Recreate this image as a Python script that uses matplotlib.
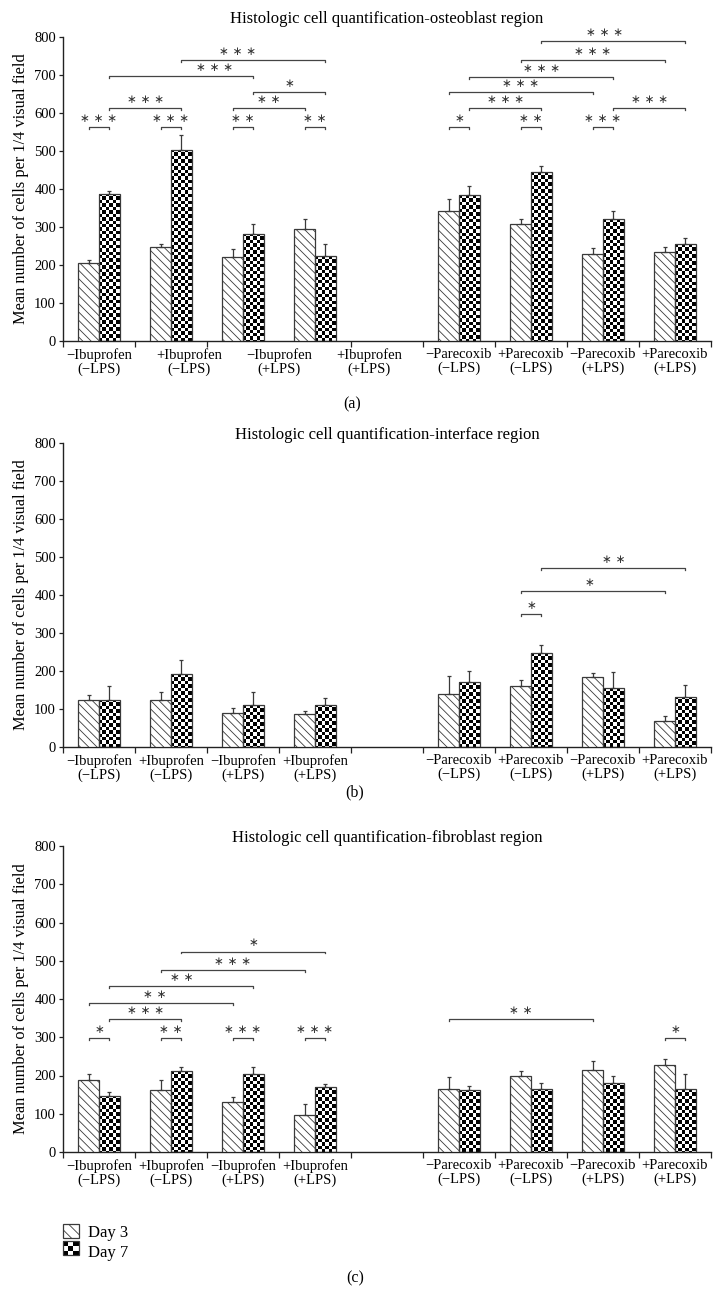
import numpy as np
import matplotlib.pyplot as plt
from matplotlib.patches import Patch, Rectangle
from matplotlib.legend_handler import HandlerBase

plt.rcParams['font.family'] = ['Liberation Serif', 'DejaVu Serif']
plt.rcParams['hatch.linewidth'] = 0.6
plt.rcParams['hatch.color'] = '#555555'

# treatment groups (slot 4 of the axis is left empty)
groups = ['\u2212Ibuprofen\n(\u2212LPS)', '+Ibuprofen\n(\u2212LPS)', '\u2212Ibuprofen\n(+LPS)', '+Ibuprofen\n(+LPS)',
          '\u2212Parecoxib\n(\u2212LPS)', '+Parecoxib\n(\u2212LPS)', '\u2212Parecoxib\n(+LPS)', '+Parecoxib\n(+LPS)']
titles = ['Histologic cell quantification-osteoblast region',
          'Histologic cell quantification-interface region',
          'Histologic cell quantification-fibroblast region']
tags = ['(a)', '(b)', '(c)']
series = ['Day 3', 'Day 7']

osteo_d3 = [205, 247, 221, 294, 343, 307, 228, 234]
osteo_d3_err = [9, 8, 21, 28, 30, 13, 18, 14]
osteo_d7 = [387, 503, 282, 223, 384, 444, 320, 255]
osteo_d7_err = [7, 40, 26, 31, 23, 17, 21, 15]

inter_d3 = [124, 125, 89, 87, 139, 161, 183, 68]
inter_d3_err = [13, 20, 13, 7, 48, 16, 12, 14]
inter_d7 = [125, 191, 110, 111, 171, 247, 154, 132]
inter_d7_err = [35, 39, 35, 19, 30, 21, 43, 31]

fibro_d3 = [188, 163, 131, 98, 166, 200, 215, 227]
fibro_d3_err = [15, 25, 14, 27, 30, 13, 23, 16]
fibro_d7 = [147, 211, 203, 169, 163, 165, 181, 164]
fibro_d7_err = [10, 12, 20, 10, 10, 15, 17, 41]

# significance brackets: (group, day, group, day, level, stars[, text fraction])
osteo_sig = [(0, 0, 0, 1, 564, '***'), (1, 0, 1, 1, 564, '***'), (0, 1, 1, 1, 612, '***'),
             (0, 1, 2, 1, 697, '***', 0.73), (1, 1, 3, 1, 739, '***', 0.39),
             (2, 0, 2, 1, 564, '**'), (2, 0, 3, 0, 612, '**'), (2, 1, 3, 1, 654, '*'),
             (3, 0, 3, 1, 564, '**'),
             (4, 0, 4, 1, 564, '*'), (5, 0, 5, 1, 564, '**'), (6, 0, 6, 1, 564, '***'),
             (4, 1, 5, 1, 612, '***'), (4, 0, 6, 0, 654, '***'), (4, 1, 6, 1, 695, '***'),
             (5, 0, 7, 0, 739, '***'), (5, 1, 7, 1, 789, '***', 0.44), (6, 1, 7, 1, 612, '***')]
inter_sig = [(5, 0, 5, 1, 350, '*'), (5, 0, 7, 0, 410, '*', 0.48), (5, 1, 7, 1, 471, '**')]
fibro_sig = [(0, 0, 0, 1, 299, '*'), (1, 0, 1, 1, 299, '**'), (2, 0, 2, 1, 299, '***'),
             (3, 0, 3, 1, 299, '***'), (0, 1, 1, 1, 348, '***'), (0, 0, 2, 0, 390, '**', 0.46),
             (0, 1, 2, 1, 435, '**'), (1, 0, 3, 0, 476, '***'), (1, 1, 3, 1, 524, '*'),
             (4, 0, 6, 0, 348, '**'), (7, 0, 7, 1, 299, '*')]

panels = [(osteo_d3, osteo_d3_err, osteo_d7, osteo_d7_err, osteo_sig),
          (inter_d3, inter_d3_err, inter_d7, inter_d7_err, inter_sig),
          (fibro_d3, fibro_d3_err, fibro_d7, fibro_d7_err, fibro_sig)]

slots = np.array([0, 1, 2, 3, 5, 6, 7, 8])
# label positions (panel a has the ibuprofen labels spread out)
label_pos = [[0, 1.25, 2.5, 3.75, 5, 6, 7, 8], list(slots), list(slots)]
title_pad = [10, 2, 2]
boxes = [(63, 37, 341), (63, 443, 747), (63, 846, 1152)]
W, H = 723, 1295
bw = 0.29
edge = '#3a3a3a'


class CheckerHandler(HandlerBase):
    def create_artists(self, legend, orig, xd, yd, w, h, fontsize, trans):
        arts = []
        n = 3
        for i in range(n):
            for j in range(n):
                if (i + j) % 2 == 0:
                    arts.append(Rectangle((xd + i * w / n, yd + j * h / n), w / n, h / n,
                                          facecolor='black', edgecolor='none', transform=trans))
        arts.append(Rectangle((xd, yd), w, h, facecolor='none', edgecolor=edge, lw=0.9, transform=trans))
        return arts


def checker(ax, rect, cell_h):
    x, y = rect.get_x(), rect.get_y()
    w, h = rect.get_width(), rect.get_height()
    nx = 6
    ny = int(np.ceil(h / cell_h))
    arr = np.add.outer(np.arange(ny), np.arange(nx)) % 2
    im = ax.imshow(arr, cmap='gray', vmin=0, vmax=1, origin='upper',
                   extent=(x, x + w, y + h - ny * cell_h, y + h),
                   interpolation='nearest', aspect='auto', zorder=2)
    im.set_clip_path(rect)


fig = plt.figure(figsize=(W / 100, H / 100), dpi=100)

for k, (d3, e3, d7, e7, sig) in enumerate(panels):
    left, top, bottom = boxes[k]
    ax = fig.add_axes([left / W, 1 - bottom / H, 648 / W, (bottom - top) / H])
    x3 = slots - bw / 2
    x7 = slots + bw / 2
    ax.bar(x3, d3, bw, color='white', edgecolor=edge, hatch='\\\\\\\\', lw=0.9, zorder=3)
    bars7 = ax.bar(x7, d7, bw, color='none', edgecolor=edge, lw=0.9, zorder=3)
    for r in bars7:
        checker(ax, r, 9.0)
    ax.errorbar(x3, d3, yerr=[np.zeros(len(e3)), e3], fmt='none', ecolor=edge,
                elinewidth=0.9, capsize=1.5, capthick=0.9, zorder=4)
    ax.errorbar(x7, d7, yerr=[np.zeros(len(e7)), e7], fmt='none', ecolor=edge,
                elinewidth=0.9, capsize=1.5, capthick=0.9, zorder=4)

    for s in sig:
        ga, da, gb, db, lev, stars = s[:6]
        frac = s[6] if len(s) > 6 else 0.5
        xa = slots[ga] + (da - 0.5) * bw
        xb = slots[gb] + (db - 0.5) * bw
        ax.plot([xa, xa, xb, xb], [lev - 5, lev, lev, lev - 5], color='#444444', lw=0.9, zorder=4)
        ax.annotate(' '.join('\u2217' * len(stars)), (xa + frac * (xb - xa), lev),
                    xytext=(0, 1.5), textcoords='offset points', ha='center', va='bottom',
                    fontsize=8.5, color='#333333', family=['DejaVu Sans'])

    ax.set_xlim(-0.5, 8.5)
    ax.set_ylim(0, 800)
    ax.set_yticks(range(0, 801, 100))
    ax.spines[['top', 'right']].set_visible(False)
    for sp in ['left', 'bottom']:
        ax.spines[sp].set_color('#222222')
        ax.spines[sp].set_linewidth(1.0)
    ax.set_xticks(np.arange(-0.5, 9, 1), minor=True)
    ax.set_xticks(label_pos[k])
    ax.set_xticklabels(groups, fontsize=10.5, linespacing=1.05)
    ax.tick_params(axis='x', which='minor', length=4, width=0.9, direction='out', color='#222222')
    ax.tick_params(axis='x', which='major', length=0, pad=5)
    ax.tick_params(axis='y', length=3, width=0.9, direction='out', labelsize=10.5, pad=2, color='#222222')
    ax.set_ylabel('Mean number of cells per 1/4 visual field', fontsize=11.8, labelpad=4)
    ax.set_title(titles[k], fontsize=12, pad=title_pad[k])

fig.text(352 / W, 1 - 404 / H, tags[0], ha='center', va='center', fontsize=11.5)
fig.text(355 / W, 1 - 792 / H, tags[1], ha='center', va='center', fontsize=11.5)
fig.text(355 / W, 1 - 1278 / H, tags[2], ha='center', va='center', fontsize=11.5)

handles = [Patch(facecolor='white', edgecolor=edge, hatch='\\\\\\', lw=0.9), Patch()]
fig.legend(handles, series, loc='upper left', bbox_to_anchor=(56 / W, 1 - 1217 / H),
           frameon=False, fontsize=12, handlelength=0.95, handleheight=0.95,
           handletextpad=0.6, labelspacing=0.2, borderaxespad=0,
           handler_map={handles[1]: CheckerHandler()})

fig.savefig('out.png', dpi=100)
